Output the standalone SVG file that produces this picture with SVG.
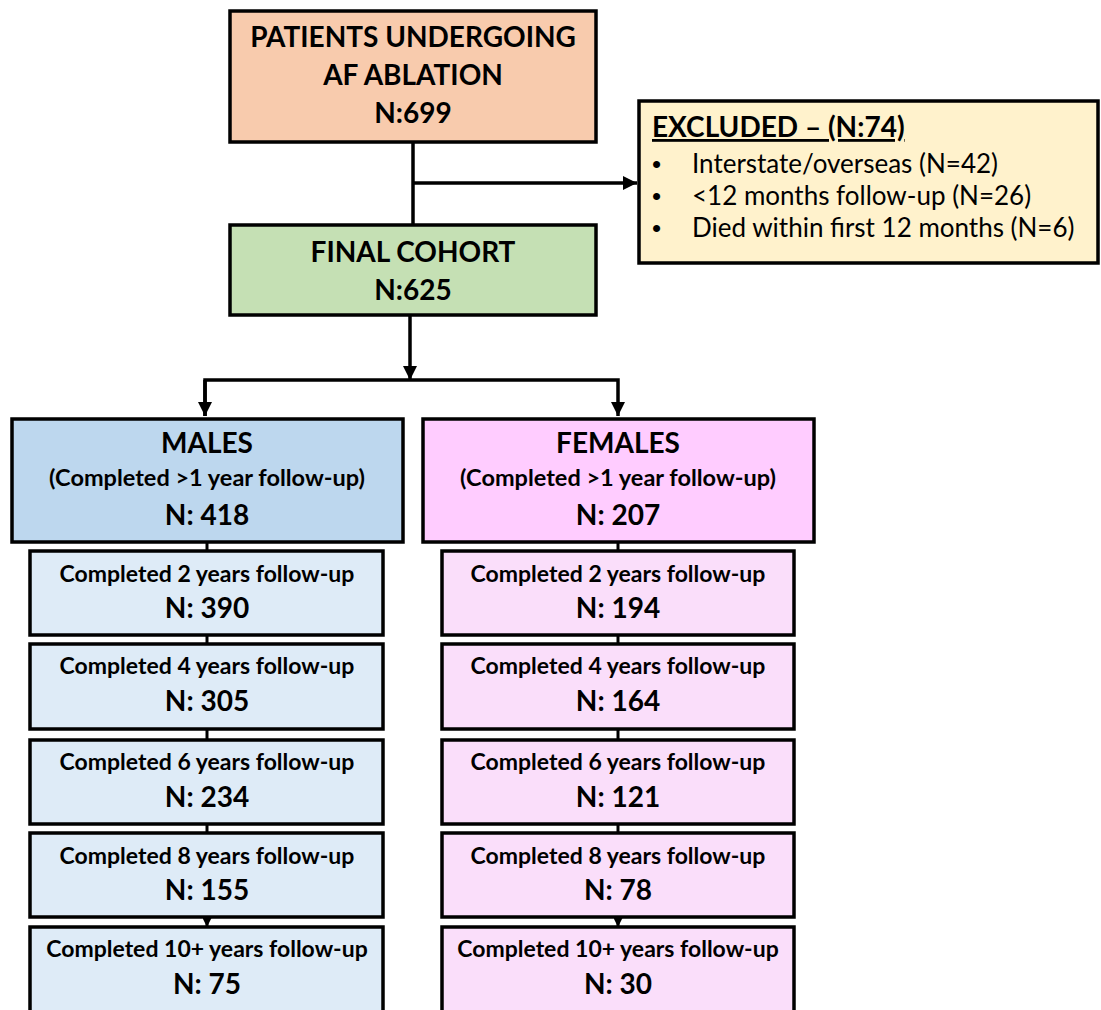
<svg xmlns="http://www.w3.org/2000/svg" width="1101" height="1010" viewBox="0 0 1101 1010">
<defs>
<marker id="ah" viewBox="0 0 10 10" refX="10" refY="5" markerWidth="4" markerHeight="4" orient="auto" markerUnits="strokeWidth"><path d="M0,0 L10,5 L0,10 z" fill="#000"/></marker>
<marker id="ahs" viewBox="0 0 10 10" refX="10" refY="5" markerWidth="3" markerHeight="3" orient="auto" markerUnits="strokeWidth"><path d="M0,0 L10,5 L0,10 z" fill="#000"/></marker>
</defs>
<style>
rect{stroke:#000;stroke-width:3.5}
.b{font-family:Lato,"Liberation Sans",sans-serif;font-weight:bold;text-anchor:middle;fill:#000}
.big{font-size:28px}
.mid{font-size:23.5px}
.sub{font-size:23px}
.r{font-family:Lato,"Liberation Sans",sans-serif;font-size:26px;fill:#000}
.bu{font-family:"Liberation Sans",sans-serif;font-size:26px;fill:#000}
.c{stroke:#000;stroke-width:3.5;fill:none}
.cs{stroke:#000;stroke-width:3;fill:none}
</style>
<rect width="1101" height="1010" fill="#fff" style="stroke:none"/>
<g id="connectors">
<line class="c" x1="413" y1="143" x2="413" y2="225"/>
<line class="c" x1="413" y1="183" x2="637" y2="183" marker-end="url(#ah)"/>
<line class="c" x1="410" y1="316" x2="410" y2="380" marker-end="url(#ah)"/>
<polyline class="c" points="205,416 205,380 618,380 618,416" marker-end="url(#ah)"/>
<line class="c" x1="205" y1="380" x2="205" y2="416" marker-end="url(#ah)"/>
<line class="cs" x1="207" y1="542" x2="207" y2="551"/>
<line class="cs" x1="207" y1="635" x2="207" y2="644"/>
<line class="cs" x1="207" y1="729" x2="207" y2="740"/>
<line class="cs" x1="207" y1="824" x2="207" y2="833"/>
<line class="cs" x1="207" y1="917" x2="207" y2="927" marker-end="url(#ahs)"/>
<line class="cs" x1="618" y1="542" x2="618" y2="551"/>
<line class="cs" x1="618" y1="635" x2="618" y2="644"/>
<line class="cs" x1="618" y1="729" x2="618" y2="740"/>
<line class="cs" x1="618" y1="824" x2="618" y2="833"/>
<line class="cs" x1="618" y1="917" x2="618" y2="927" marker-end="url(#ahs)"/>
</g>
<g id="patients">
<rect x="230" y="11" width="366" height="131" fill="#F8CBAD"/>
<text class="b big" x="413" y="47">PATIENTS UNDERGOING</text>
<text class="b big" x="413" y="85">AF ABLATION</text>
<text class="b big" x="413" y="123">N:699</text>
</g>
<g id="excluded">
<rect x="639" y="101" width="459" height="162" fill="#FFF2CC"/>
<text class="r" x="652" y="137" style="font-weight:bold;font-size:28px;text-decoration:underline">EXCLUDED – (N:74)</text>
<text class="bu" x="652" y="173">•</text><text class="r" x="692" y="173">Interstate/overseas (N=42)</text>
<text class="bu" x="652" y="205">•</text><text class="r" x="692" y="205">&lt;12 months follow-up (N=26)</text>
<text class="bu" x="652" y="237">•</text><text class="r" x="692" y="237">Died within first 12 months (N=6)</text>
</g>
<g id="final">
<rect x="230" y="225" width="366" height="90" fill="#C5E0B4"/>
<text class="b big" x="413" y="262">FINAL COHORT</text>
<text class="b big" x="413" y="300">N:625</text>
</g>
<g id="males">
<rect x="12" y="419" width="391" height="123" fill="#BDD7EE"/>
<text class="b big" x="207" y="453">MALES</text>
<text class="b mid" x="207" y="486">(Completed &gt;1 year follow-up)</text>
<text class="b big" x="207" y="525">N: 418</text>
</g>
<g id="females">
<rect x="423" y="419" width="391" height="123" fill="#FFCCFF"/>
<text class="b big" x="618" y="453">FEMALES</text>
<text class="b mid" x="618" y="486">(Completed &gt;1 year follow-up)</text>
<text class="b big" x="618" y="525">N: 207</text>
</g>
<g id="m2"><rect x="30" y="551" width="353" height="84" fill="#DEEBF7"/><text class="b sub" x="207" y="582">Completed 2 years follow-up</text><text class="b big" x="207" y="618">N: 390</text></g>
<g id="m4"><rect x="30" y="644" width="353" height="85" fill="#DEEBF7"/><text class="b sub" x="207" y="674">Completed 4 years follow-up</text><text class="b big" x="207" y="711">N: 305</text></g>
<g id="m6"><rect x="30" y="740" width="353" height="84" fill="#DEEBF7"/><text class="b sub" x="207" y="770">Completed 6 years follow-up</text><text class="b big" x="207" y="807">N: 234</text></g>
<g id="m8"><rect x="30" y="833" width="353" height="84" fill="#DEEBF7"/><text class="b sub" x="207" y="864">Completed 8 years follow-up</text><text class="b big" x="207" y="900">N: 155</text></g>
<g id="m10"><rect x="30" y="927" width="353" height="90" fill="#DEEBF7"/><text class="b sub" x="207" y="957">Completed 10+ years follow-up</text><text class="b big" x="207" y="994">N: 75</text></g>
<g id="f2"><rect x="442" y="551" width="352" height="84" fill="#FADEFA"/><text class="b sub" x="618" y="582">Completed 2 years follow-up</text><text class="b big" x="618" y="618">N: 194</text></g>
<g id="f4"><rect x="442" y="644" width="352" height="85" fill="#FADEFA"/><text class="b sub" x="618" y="674">Completed 4 years follow-up</text><text class="b big" x="618" y="711">N: 164</text></g>
<g id="f6"><rect x="442" y="740" width="352" height="84" fill="#FADEFA"/><text class="b sub" x="618" y="770">Completed 6 years follow-up</text><text class="b big" x="618" y="807">N: 121</text></g>
<g id="f8"><rect x="442" y="833" width="352" height="84" fill="#FADEFA"/><text class="b sub" x="618" y="864">Completed 8 years follow-up</text><text class="b big" x="618" y="900">N: 78</text></g>
<g id="f10"><rect x="442" y="927" width="352" height="90" fill="#FADEFA"/><text class="b sub" x="618" y="957">Completed 10+ years follow-up</text><text class="b big" x="618" y="994">N: 30</text></g>
</svg>
